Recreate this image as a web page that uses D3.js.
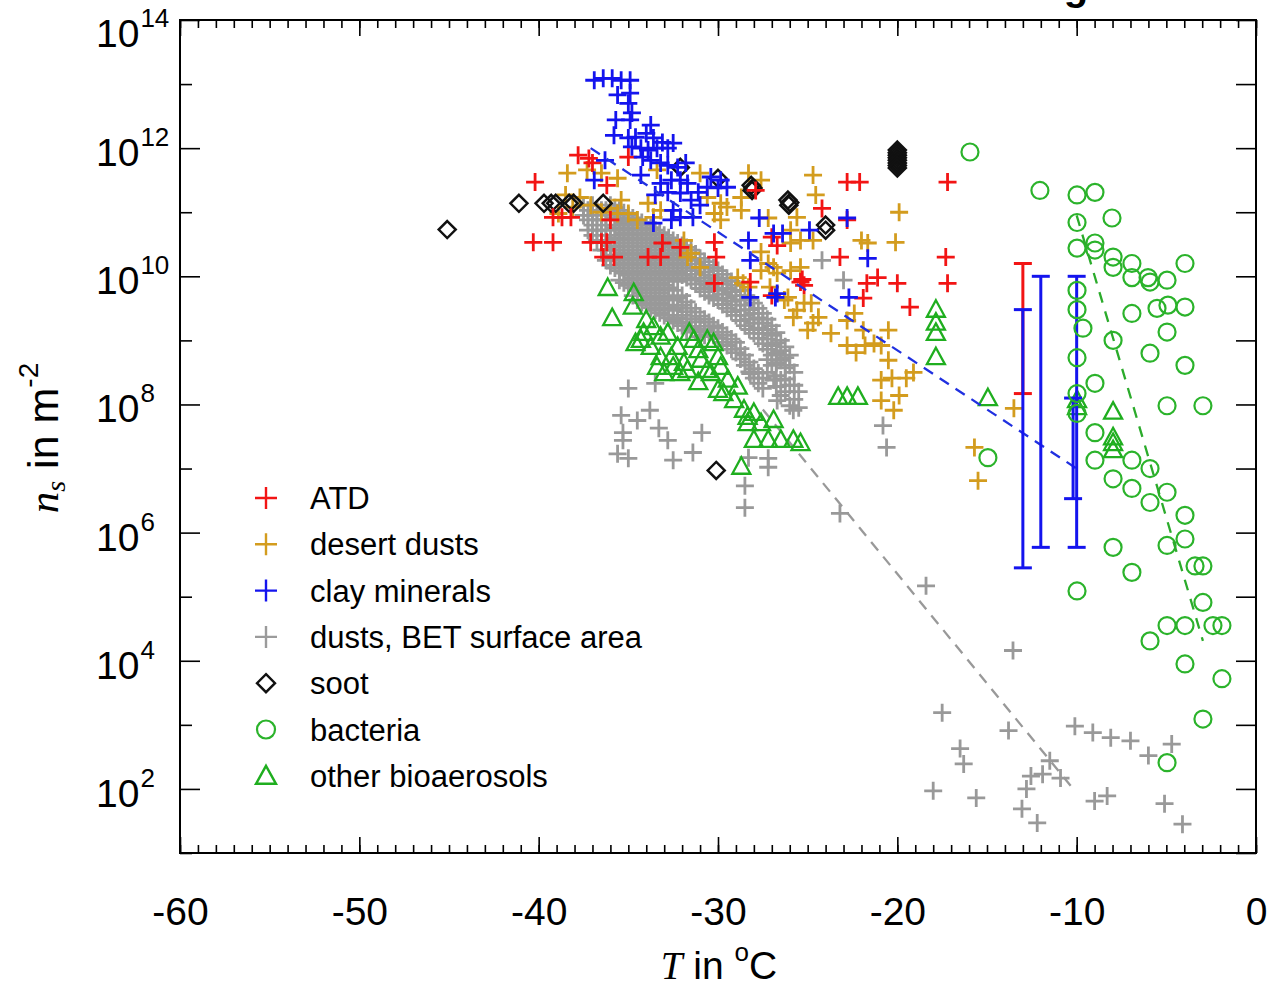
<!DOCTYPE html>
<html><head><meta charset="utf-8">
<script src="https://cdn.jsdelivr.net/npm/d3@7"></script>
<style>body{margin:0;background:#fff}svg{display:block}</style>
</head><body>
<svg id="c" width="1272" height="987"></svg>
<script>
// ---- data: [T in °C, log10(ns in m^-2)] ----
const xTicks = [-60,-50,-40,-30,-20,-10,0];
const yLabelExps = [2,4,6,8,10,12,14];

const atd = [[-40.2,11.47],[-37.8,11.89],[-37.2,11.84],[-37.0,11.77],[-39.2,10.92],[-38.7,10.92],[-38.2,10.92],[-40.3,10.53],[-39.2,10.53],[-36.2,11.42],[-36.0,10.88],[-37.1,10.53],[-36.5,10.53],[-36.2,10.53],[-36.4,10.30],[-35.8,10.30],[-35.0,11.86],[-33.9,10.30],[-33.2,10.30],[-33.1,10.52],[-32.1,10.45],[-30.2,10.53],[-30.1,10.30],[-30.2,9.89],[-27.9,11.34],[-22.8,11.47],[-22.1,11.47],[-17.2,11.47],[-24.2,11.06],[-22.8,10.88],[-27.0,10.61],[-26.7,10.48],[-28.2,9.91],[-25.4,9.91],[-25.2,9.86],[-25.3,9.95],[-27.0,9.70],[-23.2,10.30],[-21.7,9.89],[-21.1,9.98],[-20.0,9.89],[-17.3,10.30],[-17.2,9.89],[-19.3,9.52],[-21.9,9.66]];

const desertDusts = [[-38.4,11.61],[-37.3,11.66],[-36.5,11.61],[-35.6,11.53],[-38.5,11.27],[-37.7,11.23],[-38.9,10.98],[-38.1,11.08],[-37.1,11.11],[-36.5,11.0],[-36.0,11.06],[-35.4,11.19],[-35.0,10.98],[-34.5,10.88],[-33.9,11.14],[-33.6,10.92],[-33.2,11.03],[-33.4,11.66],[-31.9,10.56],[-31.5,10.36],[-31.0,10.14],[-31.0,11.61],[-30.2,10.98],[-29.85,10.88],[-29.5,11.08],[-28.7,11.23],[-28.3,11.61],[-27.6,11.5],[-28.9,9.98],[-28.3,9.83],[-27.6,10.09],[-26.9,10.14],[-27.1,9.83],[-24.7,11.58],[-24.55,11.27],[-25.6,10.92],[-27.2,10.91],[-19.9,11.0],[-20.1,10.53],[-25.95,10.52],[-25.4,10.56],[-24.7,10.56],[-22.0,10.56],[-21.65,10.52],[-28.7,11.03],[-30.6,11.23],[-29.85,11.14],[-28.6,9.89],[-27.2,10.2],[-26.7,10.05],[-25.95,10.09],[-25.4,10.14],[-26.1,9.67],[-25.6,9.47],[-24.8,9.58],[-24.4,9.36],[-25.0,9.16],[-22.8,9.31],[-22.4,9.42],[-21.9,9.16],[-21.3,8.95],[-20.5,9.16],[-25.95,10.72],[-35.6,10.98],[-31.7,10.3],[-26.3,9.63],[-25.8,9.36],[-25.2,9.58],[-24.7,9.27],[-22.8,8.92],[-22.3,8.81],[-21.8,8.92],[-20.9,8.92],[-20.5,8.69],[-20.9,8.38],[-20.3,8.41],[-19.5,8.41],[-19.1,8.5],[-19.9,8.14],[-20.9,8.06],[-20.2,7.91],[-15.7,7.33],[-15.5,6.81],[-13.5,7.94],[-27.6,10.38],[-23.7,9.11]];

const clayMinerals = [[-36.9,13.06],[-36.4,13.09],[-35.9,13.09],[-35.4,13.06],[-34.9,13.06],[-35.6,12.83],[-34.9,12.86],[-35.0,12.7],[-35.7,12.44],[-34.9,12.44],[-34.8,12.55],[-33.75,12.36],[-35.8,12.2],[-35.0,12.16],[-34.6,12.17],[-34.0,12.23],[-33.6,12.16],[-33.1,12.09],[-34.8,12.02],[-34.3,12.0],[-33.9,11.97],[-33.4,12.0],[-32.8,12.0],[-32.5,12.08],[-34.2,11.86],[-33.75,11.81],[-33.2,11.77],[-32.8,11.73],[-32.25,11.7],[-31.8,11.77],[-36.9,11.5],[-33.2,11.45],[-32.6,11.5],[-32.1,11.5],[-31.7,11.45],[-32.8,11.31],[-32.1,11.3],[-31.5,11.19],[-31.1,11.31],[-30.4,11.55],[-29.85,11.5],[-29.5,11.39],[-30.0,11.38],[-33.6,10.83],[-32.6,10.88],[-32.1,10.92],[-31.4,10.92],[-32.5,11.03],[-28.3,10.56],[-28.2,10.25],[-28.2,9.67],[-27.7,10.91],[-26.9,10.67],[-26.7,9.73],[-30.6,11.39],[-26.4,10.67],[-24.9,10.72],[-22.8,10.91],[-21.65,10.28],[-26.8,9.67],[-22.7,9.67],[-31.0,11.11],[-34.3,11.58],[-33.5,11.27],[-36.3,11.81]];

// dense part of the BET series, listed column by column: [T, [log10 ns ...]]
const dustsBETDense = [
 [-37.5,[11.11,10.95]],
 [-37.25,[11.03,10.88,10.72]],
 [-37.0,[11.11,10.95,10.80,10.64]],
 [-36.75,[11.03,10.88,10.72,10.56]],
 [-36.5,[11.03,10.88,10.72,10.56,10.41]],
 [-36.25,[11.03,10.88,10.72,10.56,10.41,10.25]],
 [-36.0,[11.11,10.95,10.80,10.64,10.48,10.33,10.17]],
 [-35.75,[11.07,10.91,10.76,10.60,10.45,10.29,10.13]],
 [-35.5,[11.03,10.88,10.72,10.56,10.41,10.25,10.09,9.94]],
 [-35.25,[10.99,10.84,10.68,10.52,10.37,10.21,10.05,9.90]],
 [-35.0,[10.95,10.80,10.64,10.48,10.33,10.17,10.02,9.86]],
 [-34.75,[10.91,10.76,10.60,10.45,10.29,10.13,9.98,9.82,9.70]],
 [-34.5,[10.88,10.72,10.56,10.41,10.25,10.09,9.94,9.78,9.63]],
 [-34.25,[10.84,10.68,10.52,10.37,10.21,10.05,9.90,9.74,9.59]],
 [-34.0,[10.80,10.64,10.48,10.33,10.17,10.02,9.86,9.70,9.55]],
 [-33.75,[10.76,10.60,10.45,10.29,10.13,9.98,9.82,9.66,9.51]],
 [-33.5,[10.72,10.56,10.41,10.25,10.09,9.94,9.78,9.63,9.47]],
 [-33.25,[10.68,10.52,10.37,10.21,10.05,9.90,9.74,9.59,9.43]],
 [-33.0,[10.64,10.48,10.33,10.17,10.02,9.86,9.70,9.55,9.39]],
 [-32.75,[10.60,10.45,10.29,10.13,9.98,9.82,9.66,9.51,9.35]],
 [-32.5,[10.56,10.41,10.25,10.09,9.94,9.78,9.63,9.47,9.31]],
 [-32.25,[10.52,10.37,10.21,10.05,9.92,9.66,9.51,9.35,9.27]],
 [-32.0,[10.48,10.33,10.17,10.02,9.70,9.55,9.39,9.23]],
 [-31.75,[10.45,10.29,10.13,9.98,9.60,9.45,9.29,9.16]],
 [-31.5,[10.41,10.25,10.09,9.94,9.50,9.34,9.19]],
 [-31.25,[10.35,10.19,10.03,9.88,9.44,9.29,9.13]],
 [-31.0,[10.28,10.13,9.97,9.81,9.38,9.22,9.06]],
 [-30.75,[10.23,10.07,9.92,9.76,9.33,9.17,9.08]],
 [-30.5,[10.17,10.02,9.86,9.70,9.28,9.13]],
 [-30.25,[10.13,9.98,9.82,9.66,9.23,9.08]],
 [-30.0,[10.09,9.94,9.78,9.63,9.19,9.03]],
 [-29.75,[10.03,9.88,9.72,9.56,9.13,8.97]],
 [-29.5,[9.97,9.81,9.66,9.50,9.08,8.92]],
 [-29.25,[9.92,9.76,9.61,9.45,9.02,8.86]],
 [-29.0,[9.86,9.70,9.55,9.39,8.97,8.81]],
 [-28.75,[9.78,9.63,9.47,9.31,8.87,8.71]],
 [-28.5,[9.70,9.55,9.39,9.23,8.77,8.61]],
 [-28.25,[9.64,9.48,9.33,9.17,8.66,8.51]],
 [-28.0,[9.58,9.42,9.27,9.11,8.56,8.41]],
 [-27.75,[9.50,9.35,9.19,9.03,8.49,8.33]],
 [-27.5,[9.42,9.27,9.11,8.95,8.41,8.25]],
 [-27.25,[9.33,9.17,9.02,8.86,8.70,8.50]],
 [-27.0,[9.23,9.08,8.92,8.77,8.61]],
 [-26.75,[9.12,8.96,8.80,8.65,8.45,8.28]],
 [-26.5,[9.00,8.84,8.69,8.38,8.14]],
 [-26.25,[8.90,8.73,8.57,8.40,8.20]],
 [-26.0,[8.77,8.61,8.30,7.98]],
 [-25.75,[8.50,8.30,8.08]],
 [-25.5,[8.20,7.95]]
];
const dustsBETSparse = [[-35.0,8.25],[-33.5,8.33],[-35.4,7.83],[-34.5,7.75],[-33.8,7.91],[-33.3,7.63],[-32.8,7.44],[-35.3,7.56],[-35.3,7.44],[-35.6,7.23],[-35.0,7.16],[-32.5,7.13],[-31.4,7.25],[-30.9,7.56],[-28.2,8.48],[-26.9,8.38],[-26.7,8.06],[-25.8,7.91],[-28.3,7.17],[-27.2,7.16],[-27.2,7.02],[-28.5,6.73],[-28.5,6.39],[-23.2,6.30],[-18.4,5.17],[-13.55,4.16],[-17.5,3.19],[-13.8,2.91],[-16.5,2.63],[-16.3,2.39],[-18.0,1.97],[-15.6,1.86],[-11.5,2.44],[-12.55,2.2],[-11.9,2.23],[-10.9,2.17],[-12.8,2.0],[-13.05,1.69],[-12.2,1.47],[-10.1,2.98],[-9.1,2.88],[-8.1,2.8],[-7.0,2.75],[-6.0,2.52],[-4.7,2.7],[-9.0,1.81],[-8.3,1.89],[-5.1,1.77],[-4.1,1.45],[-24.2,10.25],[-23.0,9.94],[-20.8,7.67],[-20.6,7.33]];

const soot = [[-45.1,10.73],[-41.1,11.14],[-39.7,11.14],[-39.3,11.14],[-39.05,11.14],[-38.3,11.14],[-38.05,11.14],[-36.4,11.14],[-32.1,11.7],[-30.0,11.53],[-28.15,11.42],[-28.05,11.38],[-28.1,11.34],[-26.1,11.19],[-26.0,11.15],[-26.05,11.11],[-24.0,10.8],[-24.0,10.72],[-20.0,11.97],[-20.0,11.93],[-20.0,11.89],[-20.0,11.85],[-20.0,11.81],[-20.0,11.77],[-20.0,11.73],[-20.0,11.69],[-30.1,6.97]];

const bacteria = [[-15.95,11.94],[-12.05,11.34],[-9.98,11.27],[-8.98,11.31],[-9.98,10.84],[-8.03,10.91],[-9.98,10.44],[-8.98,10.52],[-8.98,10.41],[-7.97,10.30],[-7.97,10.14],[-6.92,10.2],[-6.92,9.98],[-6.02,9.98],[-5.91,9.91],[-4.96,9.94],[-3.96,10.2],[-9.98,9.78],[-9.98,9.48],[-6.92,9.42],[-5.52,9.5],[-4.91,9.55],[-3.96,9.52],[-9.65,9.19],[-7.97,9.0],[-4.96,9.13],[-9.98,8.73],[-5.91,8.8],[-3.96,8.61],[-8.98,8.33],[-9.98,8.17],[-9.98,7.86],[-4.96,7.98],[-2.96,7.98],[-8.98,7.56],[-14.95,7.17],[-8.98,7.13],[-7.97,6.84],[-6.92,7.13],[-6.92,6.69],[-5.91,7.0],[-5.91,6.47],[-4.96,6.63],[-3.96,6.27],[-4.96,5.8],[-3.96,5.9],[-7.97,5.77],[-6.92,5.38],[-3.4,5.48],[-2.96,5.48],[-2.96,4.91],[-9.98,5.09],[-4.96,4.55],[-3.96,4.55],[-2.4,4.55],[-1.9,4.55],[-5.91,4.31],[-3.96,3.95],[-1.9,3.72],[-2.96,3.09],[-4.96,2.41]];

const otherBio = [[-36.15,9.81],[-35.9,9.34],[-34.7,9.73],[-34.75,9.52],[-34.6,8.95],[-34.0,9.31],[-34.15,9.11],[-33.6,9.2],[-33.2,9.05],[-32.8,9.11],[-33.75,8.89],[-33.2,8.73],[-33.4,8.58],[-32.6,8.73],[-32.25,8.89],[-31.9,8.64],[-32.1,8.48],[-31.35,9.0],[-31.1,8.84],[-30.95,8.69],[-30.6,9.0],[-30.25,8.95],[-30.0,8.73],[-29.85,8.58],[-31.1,8.34],[-29.45,8.38],[-30.4,8.48],[-29.7,8.17],[-29.1,8.06],[-28.9,8.27],[-28.55,7.91],[-28.35,7.7],[-28.0,7.86],[-27.6,7.7],[-26.9,7.75],[-28.0,7.44],[-27.2,7.44],[-26.5,7.44],[-25.8,7.44],[-25.4,7.39],[-28.7,7.02],[-31.6,9.11],[-34.3,9.0],[-33.0,8.48],[-32.5,8.58],[-31.7,8.53],[-30.6,8.53],[-30.0,8.22],[-28.35,7.8],[-23.3,8.11],[-22.8,8.11],[-22.2,8.11],[-17.85,9.47],[-17.85,9.27],[-17.85,9.11],[-17.85,8.73],[-14.95,8.09],[-9.98,8.06],[-9.98,7.95],[-7.97,7.88],[-7.97,7.48],[-7.97,7.39],[-7.97,7.28]];

// error bars: [T, low, high] (log10 ns)
const atdErrorBars = [[-13.0,8.17,10.2]];
const clayErrorBars = [[-13.0,5.45,9.48],[-12.0,5.77,10.0],[-10.0,5.77,10.0],[-10.2,6.53,8.1]];

// fitted parameterisations (dashed lines): [T, log10 ns]
const clayFit = [[-37.1,12.0],[-10.0,7.0]];
const dustsBETFit = [[-27.5,7.92],[-10.1,1.97]];
const bacteriaFit = [[-10.0,10.95],[-2.96,4.31]];

const legendItems = [
  {label:"ATD", sym:"plus", color:"#f21414"},
  {label:"desert dusts", sym:"plus", color:"#d39c1e"},
  {label:"clay minerals", sym:"plus", color:"#1414ee"},
  {label:"dusts, BET surface area", sym:"plus", color:"#9b9b9b"},
  {label:"soot", sym:"diamond", color:"#111"},
  {label:"bacteria", sym:"circle", color:"#2bb32b"},
  {label:"other bioaerosols", sym:"triangle", color:"#1fae1f"}
];

// ---- drawing ----
const L=180,R=1256,T0=20,B=853;
const svg=d3.select('#c');
const x=d3.scaleLinear().domain([-60,0]).range([L,R]);
const y=d3.scaleLog().domain([1e1,1e14]).range([B,T0]);
const px=d=>x(d[0]), py=e=>y(Math.pow(10,e));
const SANS='"Liberation Sans", Arial, Helvetica, sans-serif';
const SERIF='"Liberation Serif", "Times New Roman", serif';

const sym={
  plus:"M-9,0H9M0,-9V9",
  diamond:"M0,-8.5L8.5,0L0,8.5L-8.5,0Z",
  triangle:"M0,-10L9,6.5L-9,6.5Z"
};
const col={atd:"#f21414",dd:"#d39c1e",clay:"#1414ee",bet:"#999999",soot:"#111",bact:"#2bb32b",bio:"#1fae1f"};

const plot=svg.append('g');

function pathPts(data,d,color,sw,fill){
  plot.append('g').selectAll('path').data(data).join('path')
    .attr('d',d).attr('transform',p=>`translate(${px(p)},${py(p[1])})`)
    .attr('fill',fill||'none').attr('stroke',color).attr('stroke-width',sw);
}
const line=d3.line().x(d=>x(d[0])).y(d=>py(d[1]));

const betAll=dustsBETDense.flatMap(([t,es])=>es.map(e=>[t,e])).concat(dustsBETSparse);
pathPts(betAll,sym.plus,col.bet,2.8);
plot.append('path').datum(dustsBETFit).attr('d',line).attr('fill','none')
  .attr('stroke','#999').attr('stroke-width',2.3).attr('stroke-dasharray','11,8');
pathPts(otherBio,sym.triangle,col.bio,2.3);
pathPts(desertDusts,sym.plus,col.dd,2.8);
pathPts(soot,sym.diamond,col.soot,2.5);
pathPts(atd,sym.plus,col.atd,2.8);
pathPts(clayMinerals,sym.plus,col.clay,2.8);
plot.append('path').datum(clayFit).attr('d',line).attr('fill','none')
  .attr('stroke','#2030e0').attr('stroke-width',2.3).attr('stroke-dasharray','11,8');

function errBars(data,color){
  const g=plot.append('g').attr('stroke',color).attr('stroke-width',3).attr('fill','none');
  data.forEach(d=>{
    const X=x(d[0]);
    g.append('line').attr('x1',X).attr('x2',X).attr('y1',py(d[1])).attr('y2',py(d[2]));
    g.append('line').attr('x1',X-9).attr('x2',X+9).attr('y1',py(d[1])).attr('y2',py(d[1]));
    g.append('line').attr('x1',X-9).attr('x2',X+9).attr('y1',py(d[2])).attr('y2',py(d[2]));
  });
}
errBars(atdErrorBars,col.atd);
errBars(clayErrorBars,col.clay);

plot.append('g').selectAll('circle').data(bacteria).join('circle')
  .attr('cx',px).attr('cy',d=>py(d[1])).attr('r',8.5)
  .attr('fill','none').attr('stroke',col.bact).attr('stroke-width',2.2);
plot.append('path').datum(bacteriaFit).attr('d',line).attr('fill','none')
  .attr('stroke','#2bab2b').attr('stroke-width',2.3).attr('stroke-dasharray','11,9');

// axes (ticks inward)
const minorX=d3.range(-60,1,1);
svg.append('g').attr('transform',`translate(0,${B})`)
  .call(d3.axisBottom(x).tickValues(minorX).tickSize(-8).tickFormat(''))
  .call(g=>g.select('.domain').remove());
svg.append('g').attr('transform',`translate(0,${B})`)
  .call(d3.axisBottom(x).tickValues(xTicks).tickSize(-16).tickPadding(44).tickFormat(d=>String(d)))
  .call(g=>g.select('.domain').remove())
  .call(g=>g.selectAll('text').attr('font-family',SANS).attr('font-size',39).attr('fill','#000'));
svg.append('g').attr('transform',`translate(0,${T0})`)
  .call(d3.axisTop(x).tickValues(minorX).tickSize(-8).tickFormat(''))
  .call(g=>g.select('.domain').remove());
svg.append('g').attr('transform',`translate(0,${T0})`)
  .call(d3.axisTop(x).tickValues(xTicks).tickSize(-16).tickFormat(''))
  .call(g=>g.select('.domain').remove());
const allExp=d3.range(1,15).map(e=>Math.pow(10,e));
const evenExp=yLabelExps.map(e=>Math.pow(10,e));
svg.append('g').attr('transform',`translate(${L},0)`)
  .call(d3.axisLeft(y).tickValues(allExp.filter((v,i)=>(i+1)%2===1)).tickSize(-12).tickFormat(''))
  .call(g=>g.select('.domain').remove());
svg.append('g').attr('transform',`translate(${L},0)`)
  .call(d3.axisLeft(y).tickValues(evenExp).tickSize(-20).tickFormat(''))
  .call(g=>g.select('.domain').remove());
svg.append('g').attr('transform',`translate(${R},0)`)
  .call(d3.axisRight(y).tickValues(allExp).tickSize(-20).tickFormat(''))
  .call(g=>g.select('.domain').remove());
svg.selectAll('.tick line').attr('stroke','#000').attr('stroke-width',1.6);

svg.append('rect').attr('x',L).attr('y',T0).attr('width',R-L).attr('height',B-T0)
  .attr('fill','none').attr('stroke','#000').attr('stroke-width',2);

// y labels 10^n
const yl=svg.append('g').attr('font-family',SANS).attr('fill','#000');
yLabelExps.forEach(e=>{
  const Y=py(e)+(e===14?9:0);
  const t=yl.append('text').attr('x',96).attr('y',Y+18).attr('font-size',39);
  t.append('tspan').text('10');
  t.append('tspan').attr('font-size',26).attr('dy',-20).attr('dx',1).text(String(e));
});

// axis titles
const xt=svg.append('text').attr('x',719).attr('y',979).attr('text-anchor','middle')
  .attr('font-family',SANS).attr('font-size',39).attr('fill','#000');
xt.append('tspan').attr('font-family',SERIF).attr('font-style','italic').text('T');
xt.append('tspan').text(' in ');
xt.append('tspan').attr('font-size',26).attr('dy',-18).text('o');
xt.append('tspan').attr('dy',18).text('C');

const yt=svg.append('text').attr('transform','translate(58,438) rotate(-90)').attr('text-anchor','middle')
  .attr('font-family',SANS).attr('font-size',43).attr('fill','#000');
yt.append('tspan').attr('font-family',SERIF).attr('font-style','italic').text('n');
yt.append('tspan').attr('font-family',SERIF).attr('font-style','italic').attr('font-size',28).attr('dy',7).text('s');
yt.append('tspan').attr('dy',-7).text(' in m');
yt.append('tspan').attr('font-size',28).attr('dy',-20).text('-2');

// clipped title fragment at the very top
svg.append('text').attr('x',1076).attr('y',0).attr('text-anchor','middle')
  .attr('font-family',SANS).attr('font-weight','bold').attr('font-size',40).attr('fill','#000').text('g');

// legend
const lg=svg.append('g');
const ly0=498, lstep=46.3;
legendItems.forEach((it,i)=>{
  const Y=ly0+i*lstep;
  const g=lg.append('g').attr('transform',`translate(266,${Y})`);
  if(it.sym==='circle') g.append('circle').attr('r',9).attr('fill','none').attr('stroke',it.color).attr('stroke-width',2.2);
  else g.append('path').attr('d',it.sym==='plus'?"M-11,0H11M0,-11V11":it.sym==='diamond'?"M0,-9L9,0L0,9L-9,0Z":"M0,-10L10,8L-10,8Z")
    .attr('fill','none').attr('stroke',it.color).attr('stroke-width',2.4);
  lg.append('text').attr('x',310).attr('y',Y+11).attr('font-family',SANS).attr('font-size',31)
    .attr('fill','#000').text(it.label);
});
</script>
</body></html>
